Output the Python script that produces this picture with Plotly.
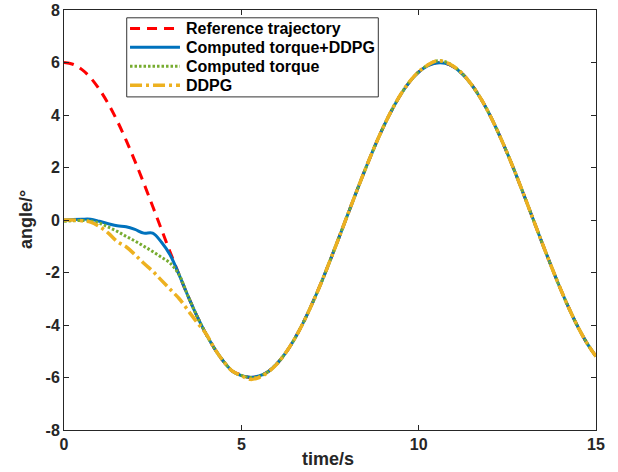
import plotly.graph_objects as go

t = [i * 0.25 for i in range(61)]

reference = [6.000, 5.934, 5.738, 5.416, 4.974, 4.424, 3.776, 3.043, 2.245, 1.400,
             0.523, -0.366, -1.246, -2.100, -2.910, -3.659, -4.332, -4.914, -5.393, -5.759,
             -5.909, -5.998, -5.955, -5.782, -5.481, -5.061, -4.528, -3.897, -3.175, -2.395,
             -1.552, -0.680, 0.209, 1.092, 1.952, 2.768, 3.531, 4.205, 4.791, 5.273,
             5.638, 5.879, 5.992, 5.972, 5.822, 5.544, 5.143, 4.631, 4.016, 3.310,
             2.535, 1.705, 0.835, -0.051, -0.938, -1.802, -2.630, -3.399, -4.096, -4.703,
             -5.196]

ct_ddpg = [0.00, 0.02, 0.03, 0.03, -0.05, -0.14, -0.22, -0.26, -0.36, -0.50,
           -0.50, -0.85, -1.35, -2.10, -2.91, -3.66, -4.33, -4.91, -5.39, -5.76,
           -5.93, -5.99, -5.94, -5.78, -5.48, -5.06, -4.53, -3.90, -3.18, -2.40,
           -1.55, -0.68, 0.21, 1.09, 1.95, 2.77, 3.53, 4.20, 4.79, 5.27,
           5.63, 5.87, 5.98, 5.97, 5.82, 5.54, 5.14, 4.63, 4.02, 3.31,
           2.54, 1.71, 0.84, -0.05, -0.94, -1.80, -2.63, -3.40, -4.10, -4.70,
           -5.20]

ct = [-0.05, -0.03, -0.02, -0.04, -0.12, -0.27, -0.43, -0.62, -0.80, -1.00,
      -1.20, -1.42, -1.65, -2.10, -2.91, -3.66, -4.33, -4.91, -5.39, -5.76,
      -5.92, -6.00, -5.96, -5.78, -5.48, -5.06, -4.53, -3.90, -3.18, -2.40,
      -1.55, -0.68, 0.21, 1.09, 1.95, 2.77, 3.53, 4.21, 4.80, 5.28,
      5.65, 5.90, 6.06, 6.03, 5.84, 5.55, 5.14, 4.63, 4.02, 3.31,
      2.54, 1.71, 0.84, -0.05, -0.94, -1.80, -2.63, -3.40, -4.10, -4.70,
      -5.20]

ddpg = [0.00, 0.00, -0.03, -0.08, -0.25, -0.50, -0.82, -1.02, -1.32, -1.65,
        -1.95, -2.30, -2.65, -3.00, -3.45, -3.90, -4.32, -4.91, -5.39, -5.76,
        -5.93, -6.07, -6.00, -5.80, -5.49, -5.06, -4.53, -3.90, -3.18, -2.40,
        -1.55, -0.68, 0.21, 1.09, 1.95, 2.77, 3.53, 4.21, 4.80, 5.28,
        5.65, 5.90, 6.06, 6.02, 5.84, 5.55, 5.14, 4.63, 4.02, 3.31,
        2.54, 1.71, 0.84, -0.05, -0.94, -1.80, -2.63, -3.40, -4.10, -4.70,
        -5.20]

series_names = ["Reference trajectory", "Computed torque+DDPG", "Computed torque", "DDPG"]
x_ticks = [0, 5, 10, 15]
y_ticks = [-8, -6, -4, -2, 0, 2, 4, 6, 8]

FONT = "Arial, Liberation Sans, sans-serif"
AX = "#262626"

styles = [
    dict(color="#FF0000", width=3, dash="10px,7px"),
    dict(color="#0072BD", width=3, dash="solid"),
    dict(color="#77AC30", width=3, dash="2.5px,2px"),
    dict(color="#EDB120", width=3.5, dash="12px,4px,3px,4px"),
]

fig = go.Figure()
for name, ys, st in zip(series_names, [reference, ct_ddpg, ct, ddpg], styles):
    fig.add_trace(go.Scatter(x=t, y=ys, mode="lines", name=name, showlegend=False,
                             line=dict(shape="spline", **st)))

axis_common = dict(showline=True, linecolor=AX, linewidth=1, mirror="ticks",
                   ticks="inside", ticklen=5, tickcolor=AX, showgrid=False, zeroline=False,
                   automargin=False,
                   tickfont=dict(family=FONT, size=16, color=AX))

# Legend box drawn in paper coordinates (MATLAB-style compact legend)
shapes = [dict(type="rect", xref="paper", yref="paper", x0=0.1179, x1=0.5908,
               y0=0.7931, y1=0.9814, line=dict(color="#333333", width=1),
               fillcolor="white", layer="above")]
annotations = []
row_y = [0.9559, 0.9113, 0.8660, 0.8207]
for name, st, yy in zip(series_names, styles, row_y):
    shapes.append(dict(type="line", xref="paper", yref="paper", x0=0.1241, x1=0.2180,
                       y0=yy, y1=yy, line=st, layer="above"))
    annotations.append(dict(text=f"<b>{name}</b>", xref="paper", yref="paper",
                            x=0.2255, y=yy, xanchor="left", yanchor="middle",
                            showarrow=False, font=dict(family=FONT, size=16, color="black")))

annotations += [
    dict(text="<b>time/s</b>", xref="paper", yref="paper", x=0.496, y=-0.069,
         xanchor="center", yanchor="middle", showarrow=False,
         font=dict(family=FONT, size=18, color=AX)),
    dict(text="<b>angle/°</b>", xref="paper", yref="paper", x=-0.0714, y=0.5,
         xanchor="center", yanchor="middle", showarrow=False, textangle=-90,
         font=dict(family=FONT, size=18, color=AX)),
]

fig.update_layout(
    width=618, height=472,
    margin=dict(l=64, r=22, t=10, b=42),
    paper_bgcolor="white", plot_bgcolor="white",
    font=dict(family=FONT, color=AX),
    showlegend=False,
    xaxis=dict(range=[0, 15], tickvals=x_ticks, ticktext=[f"<b>{v}</b>" for v in x_ticks],
               **axis_common),
    yaxis=dict(range=[-8, 8], tickvals=y_ticks, ticktext=[f"<b>{v}</b>" for v in y_ticks],
               **axis_common),
    shapes=shapes,
    annotations=annotations,
)

fig.write_html("out.html", config={"displayModeBar": False},
               post_script="document.body.style.margin='0';document.body.style.padding='0';")
